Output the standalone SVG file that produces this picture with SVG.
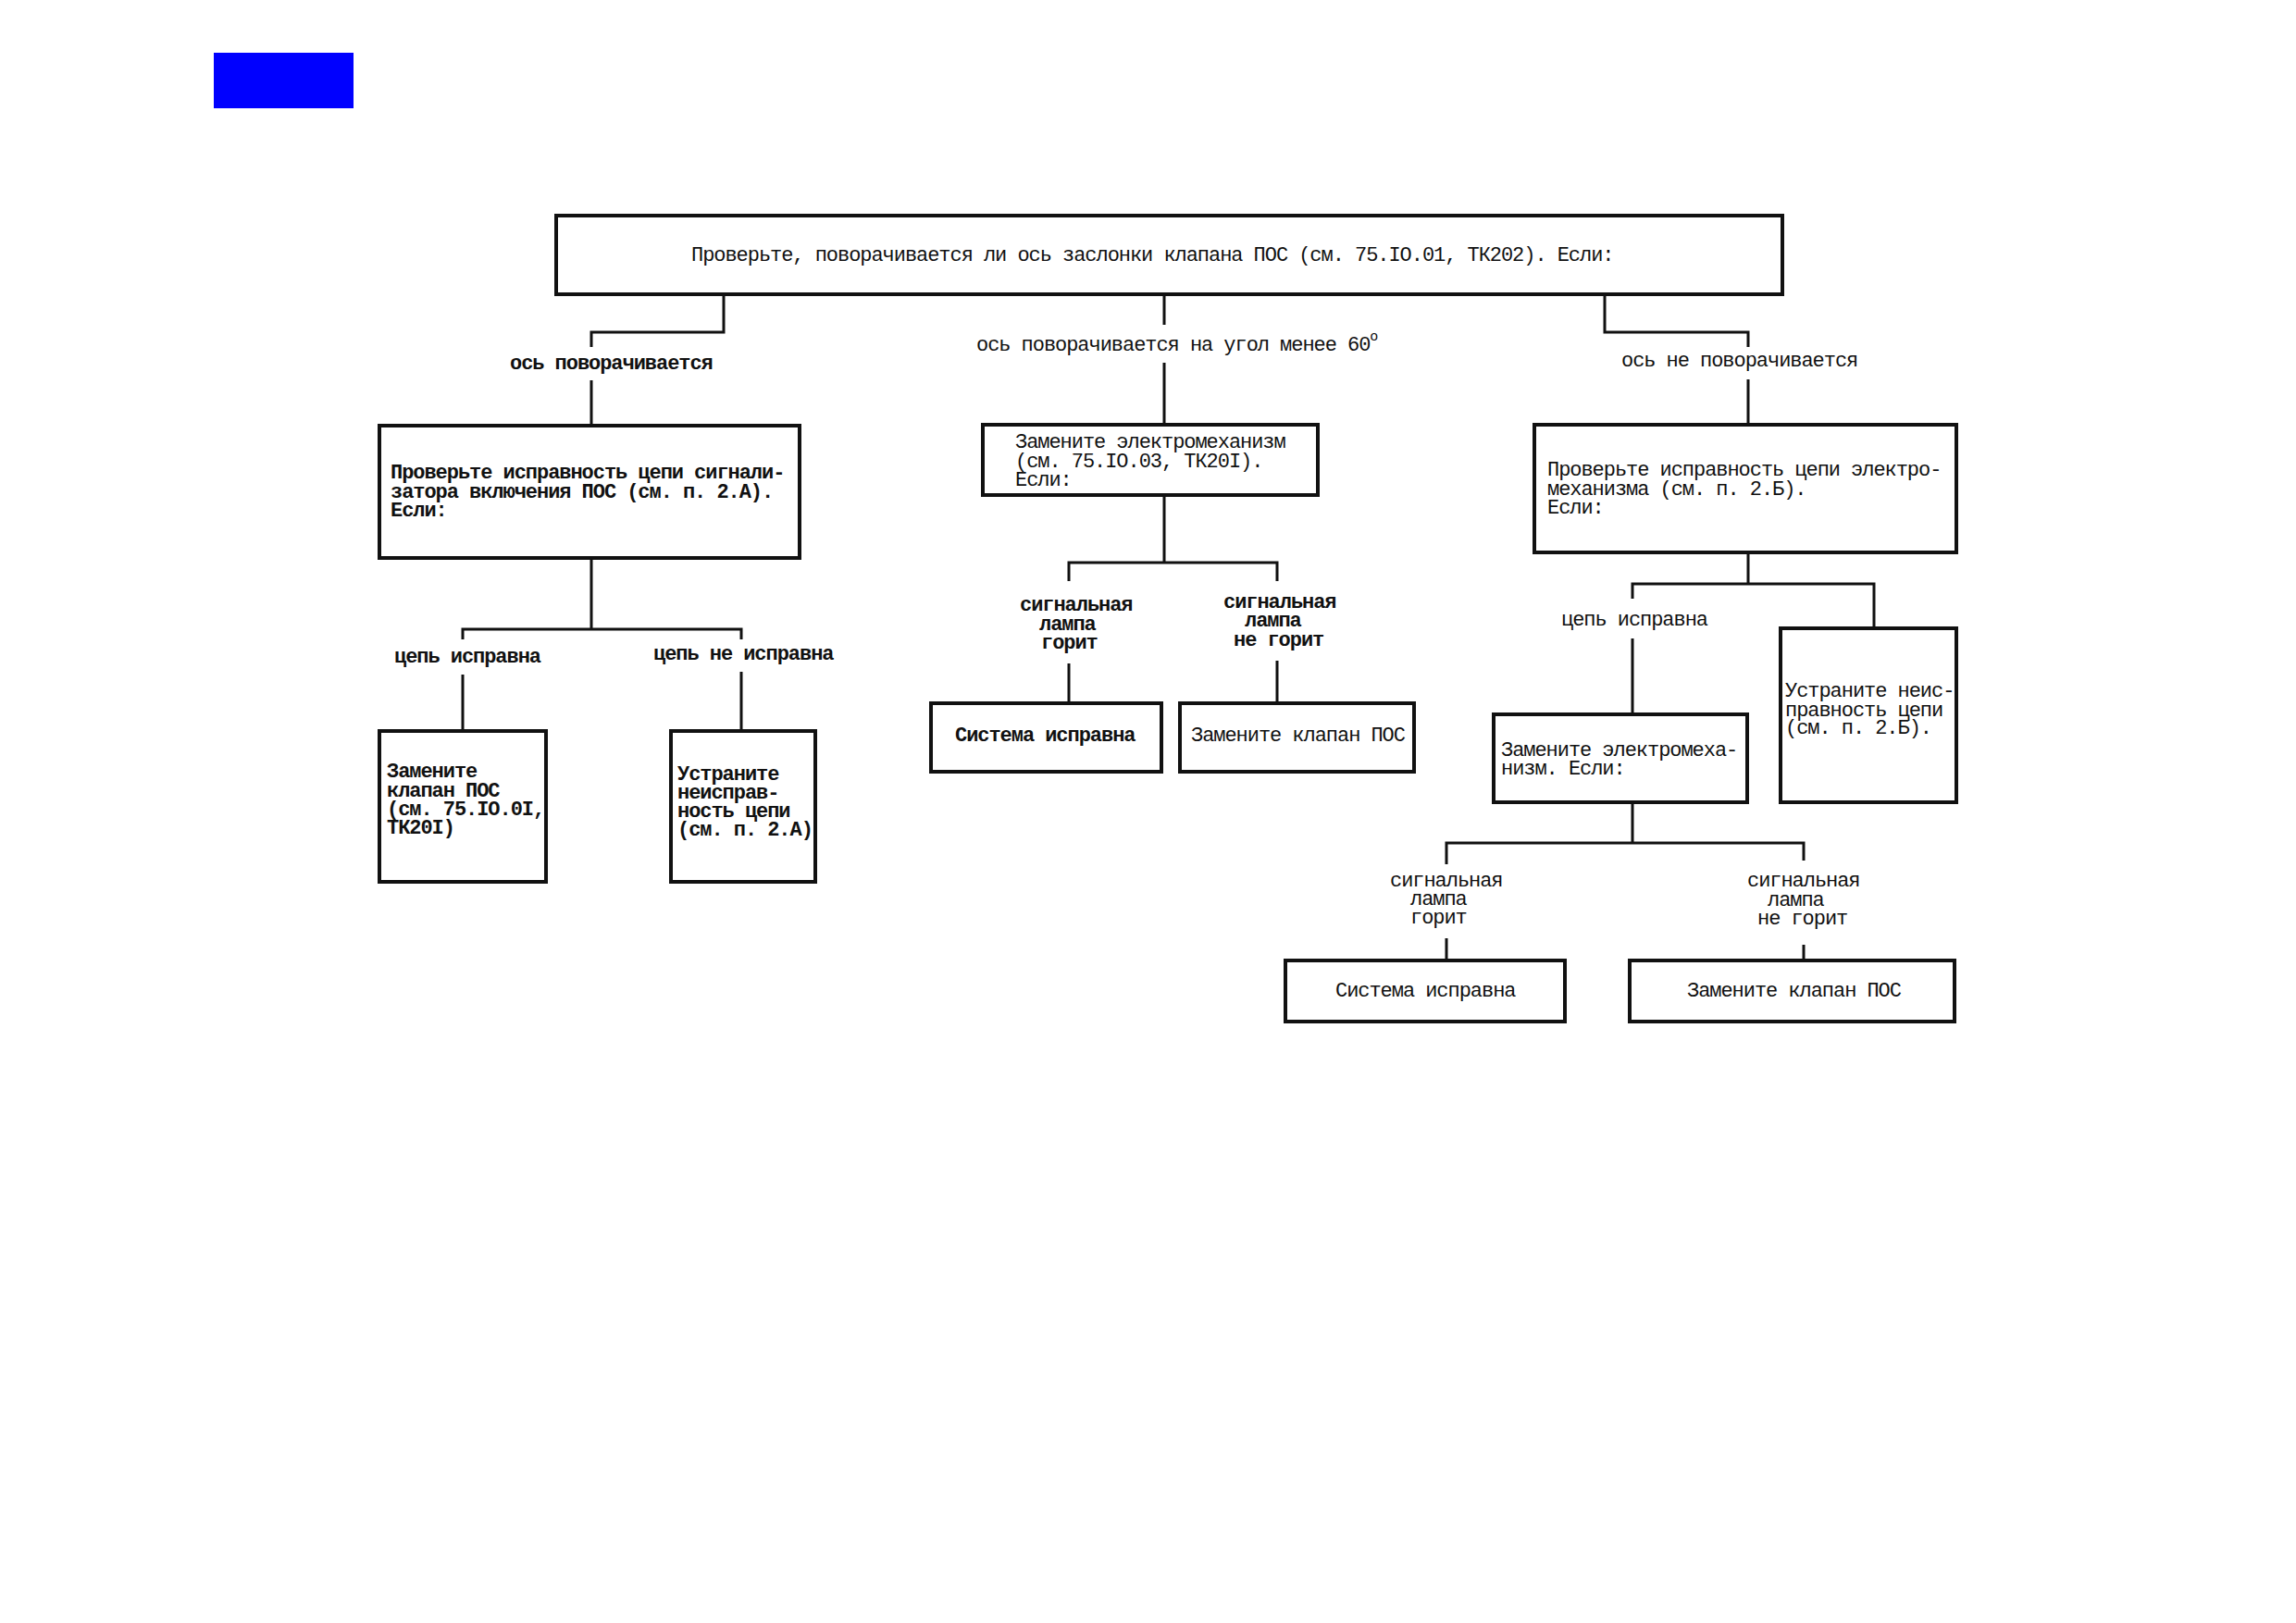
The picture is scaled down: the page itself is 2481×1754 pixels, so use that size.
<svg xmlns="http://www.w3.org/2000/svg" width="2481" height="1754" viewBox="0 0 2481 1754">
<style>
text{font-family:"Liberation Mono","DejaVu Sans Mono",monospace;font-size:22px;letter-spacing:-1.05px;fill:#111}
.b{font-weight:bold}
.box{fill:#fff;stroke:#111;stroke-width:4}
.ln{fill:none;stroke:#111;stroke-width:3}
</style>
<rect x="231" y="57" width="151" height="60" fill="#0000ff"/>
<g id="connectors">
<path class="ln" d="M782 318V359H639V375M639 411V460"/>
<path class="ln" d="M1258 318V351M1258 392V459"/>
<path class="ln" d="M1734 318V359H1889V375M1889 410V459"/>
<path class="ln" d="M639 603V680M500 691V680H801V691M500 729V790M801 726V790"/>
<path class="ln" d="M1258 535V608M1155 628V608H1380V628M1155 717V760M1380 714V760"/>
<path class="ln" d="M1889 597V631M1764 647V631H2025V679M1764 690V772"/>
<path class="ln" d="M1764 867V911M1563 934V911H1949V930M1563 1014V1038M1949 1021V1038"/>
</g>
<g id="labels">
<text class="b" x="551" y="399">ось поворачивается</text>
<text x="1055" y="379">ось поворачивается на угол менее 60<tspan font-size="15" dy="-11">o</tspan></text>
<text x="1752" y="396">ось не поворачивается</text>
<text class="b" x="426" y="716">цепь исправна</text>
<text class="b" x="706" y="713">цепь не исправна</text>
<text class="b" x="1102" y="660">сигнальная</text>
<text class="b" x="1123" y="681">лампа</text>
<text class="b" x="1125" y="701">горит</text>
<text class="b" x="1322" y="657">сигнальная</text>
<text class="b" x="1345" y="677">лампа</text>
<text class="b" x="1333" y="698">не горит</text>
<text x="1687" y="676">цепь исправна</text>
<text x="1502" y="958">сигнальная</text>
<text x="1524" y="978">лампа</text>
<text x="1524" y="998">горит</text>
<text x="1888" y="958">сигнальная</text>
<text x="1910" y="979">лампа</text>
<text x="1899" y="999">не горит</text>
</g>
<g id="n-top">
<rect class="box" x="601" y="233" width="1325" height="85"/>
<text x="747" y="282">Проверьте, поворачивается ли ось заслонки клапана ПОС (см. 75.IO.01, ТК202). Если:</text>
</g>
<g id="n-left">
<rect class="box" x="410" y="460" width="454" height="143"/>
<text class="b" x="422" y="517">Проверьте исправность цепи сигнали-</text>
<text class="b" x="422" y="538">затора включения ПОС (см. п. 2.А).</text>
<text class="b" x="422" y="558">Если:</text>
</g>
<g id="n-left-ok">
<rect class="box" x="410" y="790" width="180" height="163"/>
<text class="b" x="418" y="840">Замените</text>
<text class="b" x="418" y="861">клапан ПОС</text>
<text class="b" x="418" y="881">(см. 75.IO.0I,</text>
<text class="b" x="418" y="901">ТК20I)</text>
</g>
<g id="n-left-bad">
<rect class="box" x="725" y="790" width="156" height="163"/>
<text class="b" x="732" y="843">Устраните</text>
<text class="b" x="732" y="863">неисправ-</text>
<text class="b" x="732" y="883">ность цепи</text>
<text class="b" x="732" y="903">(см. п. 2.А)</text>
</g>
<g id="n-mid">
<rect class="box" x="1062" y="459" width="362" height="76"/>
<text x="1097" y="484">Замените электромеханизм</text>
<text x="1097" y="505">(см. 75.IO.03, ТК20I).</text>
<text x="1097" y="525">Если:</text>
</g>
<g id="n-mid-ok">
<rect class="box" x="1006" y="760" width="249" height="74"/>
<text class="b" x="1032" y="801">Система исправна</text>
</g>
<g id="n-mid-bad">
<rect class="box" x="1275" y="760" width="253" height="74"/>
<text x="1287" y="801">Замените клапан ПОС</text>
</g>
<g id="n-right">
<rect class="box" x="1658" y="459" width="456" height="138"/>
<text x="1672" y="514">Проверьте исправность цепи электро-</text>
<text x="1672" y="535">механизма (см. п. 2.Б).</text>
<text x="1672" y="555">Если:</text>
</g>
<g id="n-right-ok">
<rect class="box" x="1614" y="772" width="274" height="95"/>
<text x="1622" y="817">Замените электромеха-</text>
<text x="1622" y="837">низм. Если:</text>
</g>
<g id="n-right-bad">
<rect class="box" x="1924" y="679" width="190" height="188"/>
<text x="1929" y="753">Устраните неис-</text>
<text x="1929" y="774">правность цепи</text>
<text x="1929" y="793">(см. п. 2.Б).</text>
</g>
<g id="n-rr-ok">
<rect class="box" x="1389" y="1038" width="302" height="66"/>
<text x="1443" y="1077">Система исправна</text>
</g>
<g id="n-rr-bad">
<rect class="box" x="1761" y="1038" width="351" height="66"/>
<text x="1823" y="1077">Замените клапан ПОС</text>
</g>
</svg>
